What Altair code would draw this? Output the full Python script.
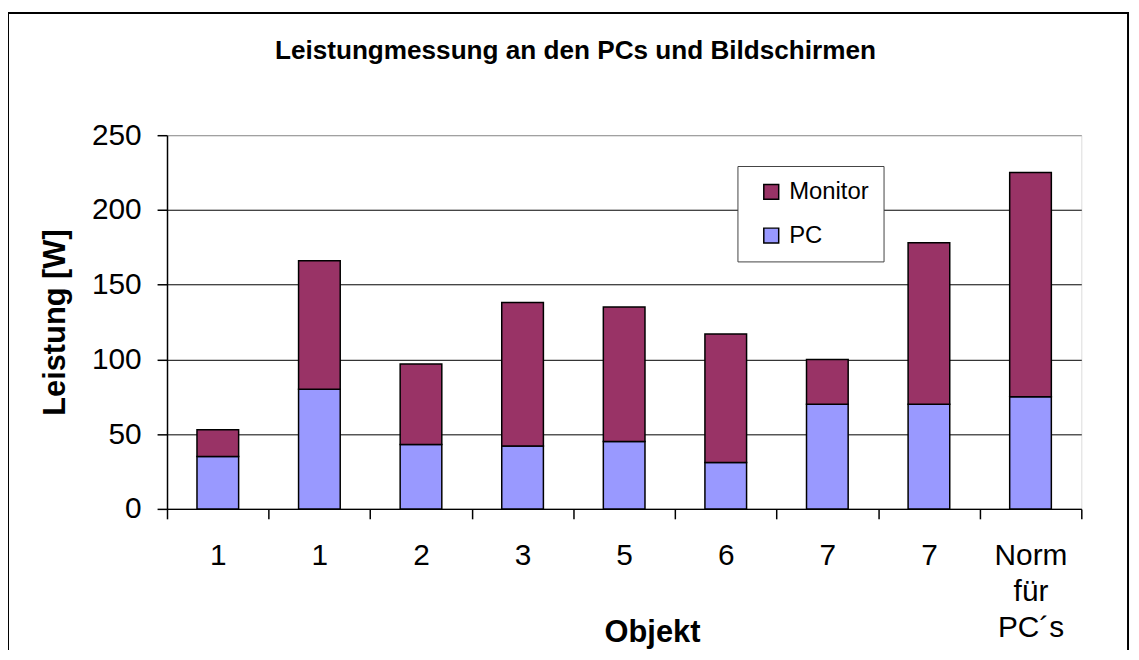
import json
import altair as alt
import pandas as pd

title_text = "Leistungmessung an den PCs und Bildschirmen"
labels = ["1", "1", "2", "3", "5", "6", "7", "7", ["Norm", "für", "PC´s"]]
pc = [35, 80, 43, 42, 45, 31, 70, 70, 75]
monitor = [18, 86, 54, 96, 90, 86, 30, 108, 150]
series = ["Monitor", "PC"]
colors = ["#993366", "#9999FF"]
y_ticks = [0, 50, 100, 150, 200, 250]

rows = []
for i in range(len(labels)):
    rows.append({"idx": i, "series": "PC", "value": pc[i], "ord": 0})
    rows.append({"idx": i, "series": "Monitor", "value": monitor[i], "ord": 1})
df = pd.DataFrame(rows)

FONT = "Liberation Sans"
label_expr = json.dumps(labels, ensure_ascii=False) + "[datum.value]"

bars = alt.Chart(df).mark_bar(
    width=alt.RelativeBandSize(0.41), stroke="black", strokeWidth=1.5
).encode(
    x=alt.X(
        "idx:O",
        scale=alt.Scale(paddingInner=0, paddingOuter=0),
        axis=alt.Axis(
            title="Objekt",
            labelExpr=label_expr,
            labelAngle=0,
            labelFont=FONT,
            labelFontSize=30,
            labelColor="black",
            labelLineHeight=36,
            labelPadding=22,
            labelBaseline="top",
            tickBand="extent",
            tickSize=10,
            tickColor="black",
            tickWidth=1.5,
            domainColor="black",
            domainWidth=1.5,
            grid=False,
            titleFont=FONT,
            titleFontSize=31,
            titleFontWeight="bold",
            titleColor="black",
            titleX=488,
            titleY=133,
            titleBaseline="alphabetic",
            titleAlign="center",
        ),
    ),
    y=alt.Y(
        "value:Q",
        stack="zero",
        scale=alt.Scale(domain=[0, 250], nice=False),
        axis=alt.Axis(
            title="Leistung [W]",
            values=y_ticks,
            labelFont=FONT,
            labelFontSize=30,
            labelColor="black",
            labelPadding=16,
            tickSize=10,
            tickColor="black",
            tickWidth=1.5,
            domainColor="black",
            domainWidth=1.5,
            grid=True,
            gridColor={
                "condition": {"test": "datum.value >= 250", "value": "#909090"},
                "value": "black",
            },
            gridWidth=1,
            titleFont=FONT,
            titleFontSize=31,
            titleFontWeight="bold",
            titleColor="black",
            titleX=-112,
            titleBaseline="middle",
            titleAlign="center",
        ),
    ),
    color=alt.Color(
        "series:N",
        scale=alt.Scale(domain=series, range=colors),
        legend=alt.Legend(
            title=None,
            orient="none",
            legendX=574,
            legendY=31,
            symbolType="square",
            symbolSize=225,
            symbolStrokeColor="black",
            symbolStrokeWidth=1.5,
            symbolOpacity=1,
            symbolOffset=8,
            labelFont=FONT,
            labelFontSize=24,
            labelColor="black",
            labelOffset=6,
            rowPadding=20,
            padding=14,
            strokeColor="#444",
            fillColor="white",
        ),
    ),
    order=alt.Order("ord:Q"),
)

title = alt.Chart(alt.Data(values=[{"t": title_text}])).mark_text(
    font=FONT, fontSize=26.3, fontWeight="bold", color="black",
    align="center", baseline="alphabetic"
).encode(text="t:N", x=alt.value(411), y=alt.value(-77))

border = alt.Chart(alt.Data(values=[{}])).mark_rect(
    fill="white", fillOpacity=0, stroke="black", strokeWidth=2
).encode(
    x=alt.value(-160), x2=alt.value(967), y=alt.value(-123), y2=alt.value(600)
)

chart = alt.layer(border, title, bars).properties(
    width=920,
    height=376,
    padding={"left": 160, "top": 126, "right": 50, "bottom": 140},
    autosize=alt.AutoSizeParams(type="none"),
).configure_view(stroke="#909090", strokeWidth=1.5).configure(background="white")

chart.save("out.html", embed_options={"renderer": "svg", "actions": False})
